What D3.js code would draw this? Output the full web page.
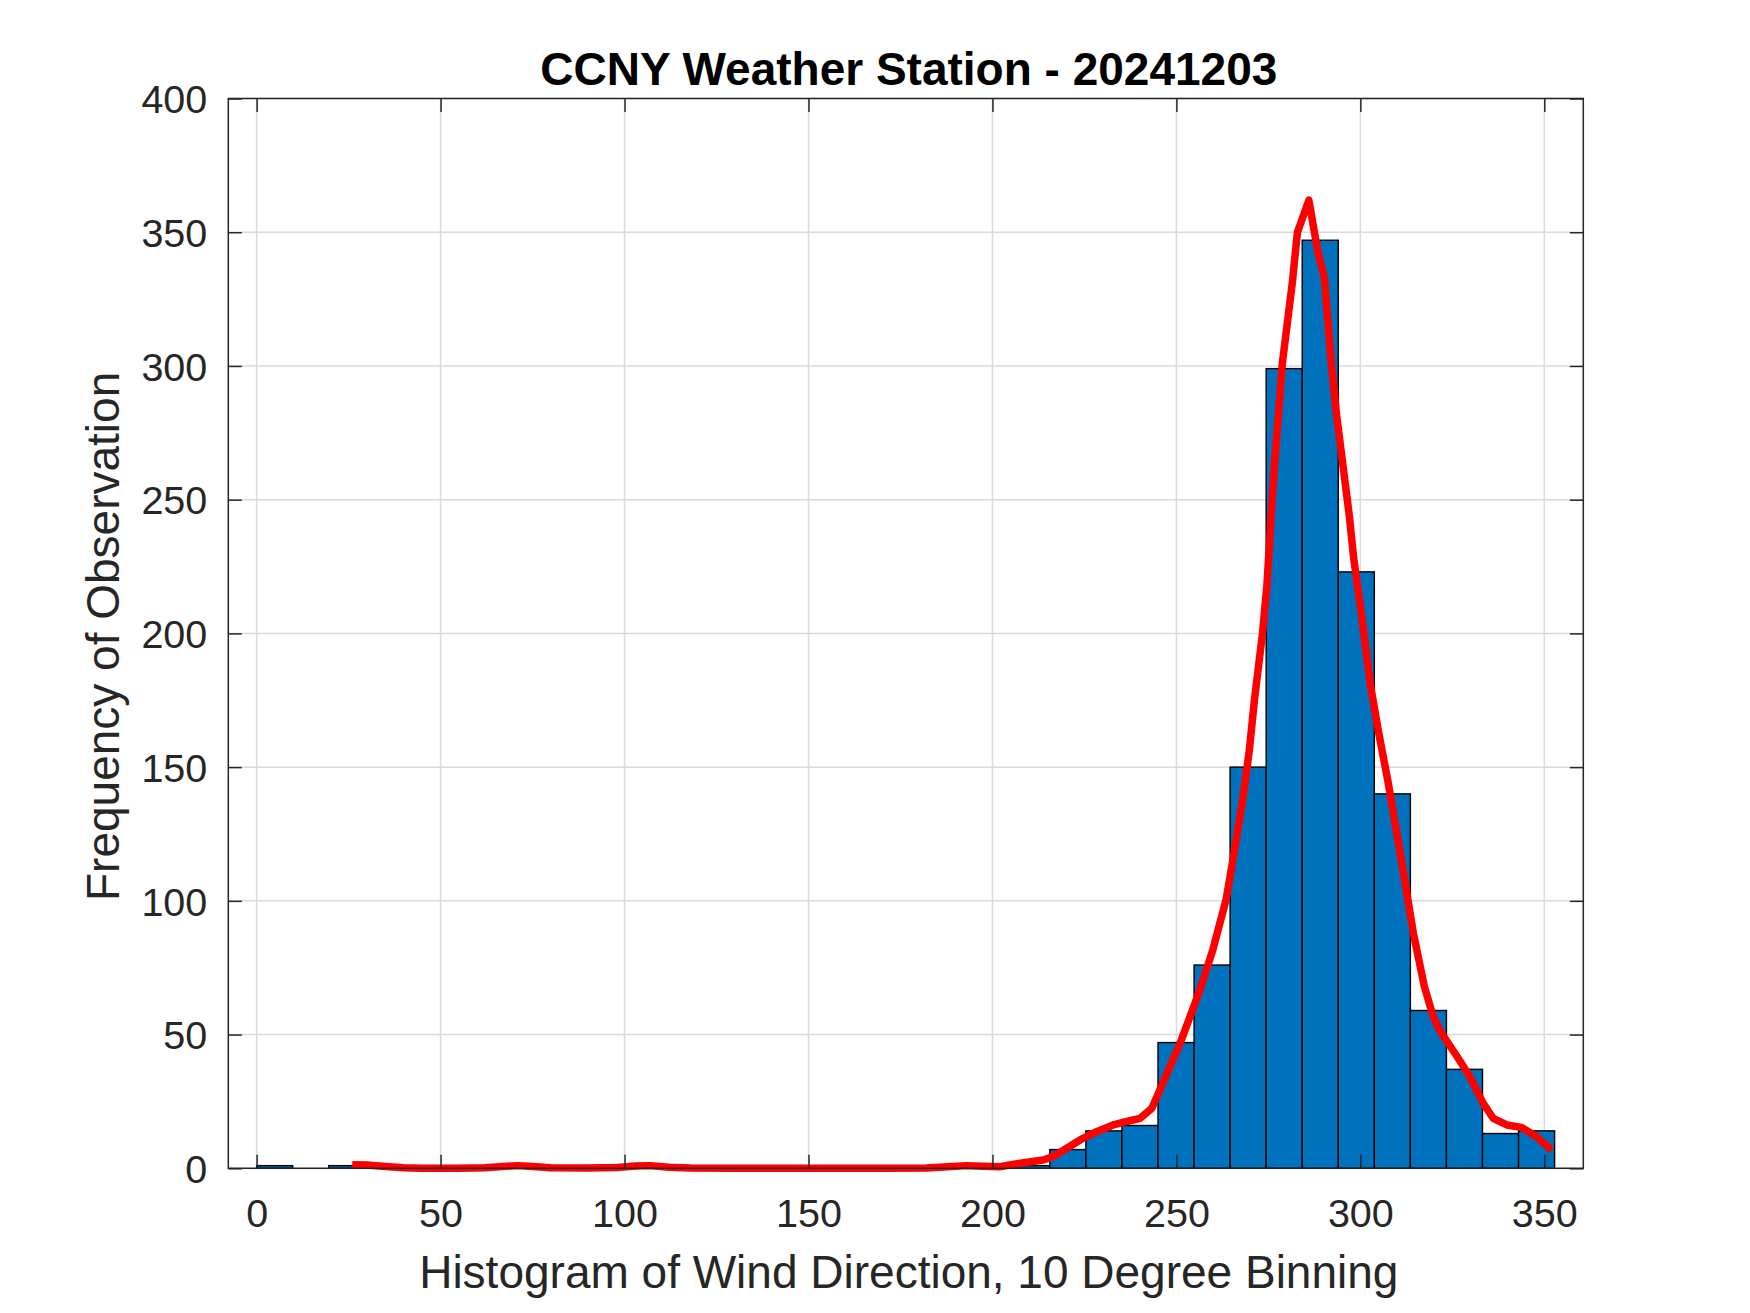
<!DOCTYPE html>
<html>
<head>
<meta charset="utf-8">
<script src="https://cdn.jsdelivr.net/npm/d3@7"></script>
<style>
  html, body { margin: 0; padding: 0; background: #fff; }
  svg { display: block; }
  text { font-family: "Liberation Sans", Arial, Helvetica, sans-serif; }
</style>
</head>
<body>
<svg id="chart" width="1750" height="1313"></svg>
<script>
// ---------- data ----------
const titleText = "CCNY Weather Station - 20241203";
const xLabelText = "Histogram of Wind Direction, 10 Degree Binning";
const yLabelText = "Frequency of Observation";

const binWidth = 9.8;
const binLeft = [0, 9.8, 19.6, 29.4, 39.2, 49, 58.8, 68.6, 78.4, 88.2, 98, 107.8,
  117.6, 127.4, 137.2, 147, 156.8, 166.6, 176.4, 186.2, 196, 205.8, 215.6, 225.4,
  235.2, 245, 254.8, 264.6, 274.4, 284.2, 294, 303.8, 313.6, 323.4, 333.2, 343];
const binCounts = [1, 0, 1, 0, 0, 0, 0, 0, 0, 0, 0, 0,
  0, 0, 0, 0, 0, 0, 0, 0, 0, 1, 7, 14,
  16, 47, 76, 150, 299, 347, 223, 140, 59, 37, 13, 14];

const curveX = [26, 30, 35, 40, 45, 55, 62, 67, 71, 75, 80, 90, 98, 103, 107, 112, 118,
  130, 150, 170, 182, 188, 193, 197, 202, 207.5, 213.8, 216.5, 220.2, 223.8, 228.3,
  232.8, 236.5, 240.1, 243.3, 245.5, 248.2, 251, 253.7, 256.4, 259.9, 263.5, 265.8,
  268, 269.8, 271.2, 273.4, 274.6, 276.6, 278.8, 281.5, 282.9, 286.0, 288.4, 290.2,
  292.1, 293.6, 297.0, 298.2, 300.4, 302.7, 305, 307.6, 309.9, 312.2, 314.4, 317.4,
  319.8, 321.8, 324, 326.2, 329.8, 333.4, 336.1, 339.8, 343.8, 347.9, 352];
const curveY = [1.3, 1.2, 0.7, 0.2, 0.0, 0.0, 0.2, 0.7, 1.0, 0.7, 0.2, 0.1, 0.3, 0.9, 1.0, 0.4, 0.1,
  0.0, 0.0, 0.0, 0.1, 0.6, 1.0, 0.8, 0.6, 1.9, 3.1, 4.4, 7.5, 10.6, 13.7,
  16.2, 17.5, 18.7, 22.4, 29.3, 38, 46.7, 56.7, 66.7, 81.7, 100.4, 119,
  137.7, 156, 175, 200, 218, 262, 301, 331, 350, 362, 343, 333,
  301, 281, 244, 228, 206, 181, 162.7, 144, 125.3, 106.6, 88, 68,
  56.7, 51, 46.5, 42, 34.2, 24.3, 18.7, 16.2, 15.3, 11.8, 6.8];

const xTicks = [0, 50, 100, 150, 200, 250, 300, 350];
const yTicks = [0, 50, 100, 150, 200, 250, 300, 350, 400];
const xDomain = [-7.7, 360.6];
const yDomain = [0, 400];

// ---------- layout ----------
const plot = { left: 228.3, right: 1583.3, top: 98.5, bottom: 1168.3 };
const axisColor = "#262626";
const tickLen = 13.5;

const svg = d3.select("#chart");
const x = d3.scaleLinear().domain(xDomain).range([plot.left, plot.right]);
const y = d3.scaleLinear().domain(yDomain).range([plot.bottom, plot.top]);

// grid (below data)
const grid = svg.append("g");
grid.selectAll("line.gx").data(xTicks).join("line")
  .attr("x1", d => x(d)).attr("x2", d => x(d))
  .attr("y1", plot.top).attr("y2", plot.bottom)
  .attr("stroke", "#dadada").attr("stroke-width", 1.5);
grid.selectAll("line.gy").data(yTicks).join("line")
  .attr("y1", d => y(d)).attr("y2", d => y(d))
  .attr("x1", plot.left).attr("x2", plot.right)
  .attr("stroke", "#dadada").attr("stroke-width", 1.5);

// bars
const bins = binLeft.map((b, i) => ({ x0: b, x1: b + binWidth, n: binCounts[i] }));
svg.append("g").selectAll("rect").data(bins).join("rect")
  .attr("x", d => x(d.x0))
  .attr("width", d => x(d.x1) - x(d.x0))
  .attr("y", d => y(d.n))
  .attr("height", d => y(0) - y(d.n))
  .attr("fill", "#0072BD")
  .attr("stroke", "#000")
  .attr("stroke-width", 1.4);

// red curve
const pts = curveX.map((v, i) => [v, curveY[i]]);
svg.append("path")
  .datum(pts)
  .attr("d", d3.line().x(d => x(d[0])).y(d => y(d[1])).curve(d3.curveLinear))
  .attr("fill", "none")
  .attr("stroke", "#FF0000")
  .attr("stroke-width", 7.5)
  .attr("stroke-linejoin", "round")
  .attr("stroke-linecap", "butt");

// axes: ticks inside, on all four sides, box
const axisG = svg.append("g");
const bottomAxis = d3.axisBottom(x).tickValues(xTicks).tickSize(-tickLen).tickPadding(0).tickFormat(d3.format("d"));
const topAxis = d3.axisTop(x).tickValues(xTicks).tickSize(-tickLen).tickFormat("");
const leftAxis = d3.axisLeft(y).tickValues(yTicks).tickSize(-tickLen).tickFormat(d3.format("d"));
const rightAxis = d3.axisRight(y).tickValues(yTicks).tickSize(-tickLen).tickFormat("");

function styleAxis(g) {
  g.select(".domain").remove();
  g.selectAll(".tick line").attr("stroke", axisColor).attr("stroke-width", 1.5);
  g.selectAll(".tick text").attr("fill", axisColor)
    .style("font-size", "39.5px")
    .style("font-family", "'Liberation Sans', Arial, Helvetica, sans-serif");
}

const gb = axisG.append("g").attr("transform", `translate(0,${plot.bottom})`).call(bottomAxis).call(styleAxis);
gb.selectAll(".tick text").attr("y", null).attr("dy", null)
  .attr("y", 1226.7 - plot.bottom);
axisG.append("g").attr("transform", `translate(0,${plot.top})`).call(topAxis).call(styleAxis);
const gl = axisG.append("g").attr("transform", `translate(${plot.left},0)`).call(leftAxis).call(styleAxis);
gl.selectAll(".tick text").attr("x", -21).attr("dy", "0.36em");
axisG.append("g").attr("transform", `translate(${plot.right},0)`).call(rightAxis).call(styleAxis);

axisG.append("rect")
  .attr("x", plot.left).attr("y", plot.top)
  .attr("width", plot.right - plot.left).attr("height", plot.bottom - plot.top)
  .attr("fill", "none").attr("stroke", axisColor).attr("stroke-width", 1.5);

// titles
svg.append("text")
  .attr("x", (plot.left + plot.right) / 2 + 3).attr("y", 85)
  .attr("text-anchor", "middle")
  .attr("fill", "#000")
  .style("font-size", "46px").style("font-weight", "bold")
  .text(titleText);

svg.append("text")
  .attr("x", (plot.left + plot.right) / 2 + 3).attr("y", 1288)
  .attr("text-anchor", "middle")
  .attr("fill", axisColor)
  .style("font-size", "46px")
  .text(xLabelText);

svg.append("text")
  .attr("transform", `translate(119,${(plot.top + plot.bottom) / 2 + 3}) rotate(-90)`)
  .attr("text-anchor", "middle")
  .attr("fill", axisColor)
  .style("font-size", "46px")
  .text(yLabelText);
</script>
</body>
</html>
